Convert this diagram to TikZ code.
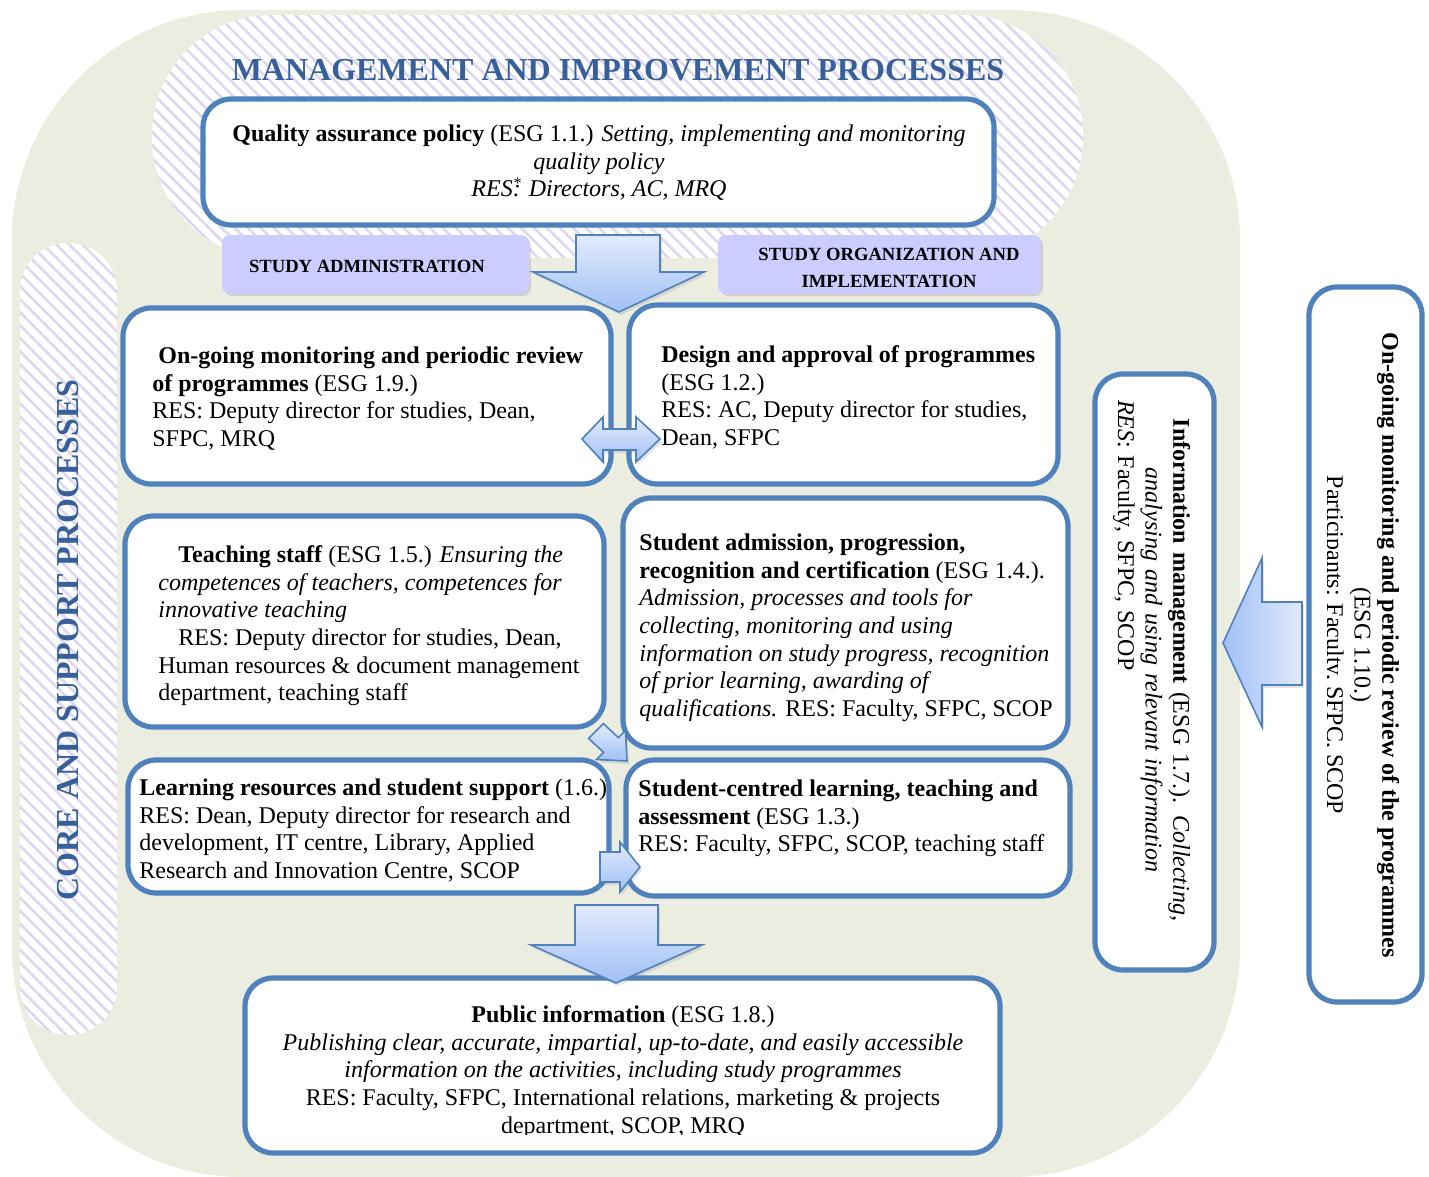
\documentclass[tikz,border=0pt]{standalone}
\usepackage{fontspec}
\setmainfont{Liberation Serif}
\usetikzlibrary{patterns.meta,shadows}
\definecolor{bgolive}{RGB}{235,237,224}
\definecolor{boxblue}{RGB}{79,129,189}
\definecolor{headblue}{RGB}{55,96,155}
\definecolor{hatch}{RGB}{221,216,240}
\definecolor{labelfill}{RGB}{204,204,255}
\definecolor{arrowtop}{RGB}{226,234,252}
\definecolor{arrowbot}{RGB}{160,192,245}
\begin{document}
\begin{tikzpicture}[x=0.5pt,y=-0.5pt,
  procbox/.style={draw=boxblue, line width=2.6pt, fill=white, rounded corners=14pt},
  labelbox/.style={fill=labelfill, rounded corners=4pt, drop shadow={opacity=0.25, shadow xshift=1pt, shadow yshift=-1pt}},
  hatched/.style={preaction={fill=white}, pattern={Lines[angle=-45,distance=4.6pt,line width=1.3pt]}, pattern color=hatch},
  blockarrow/.style={draw=boxblue, line width=0.8pt, top color=arrowtop, bottom color=arrowbot, drop shadow={opacity=0.2, shadow xshift=1pt, shadow yshift=-1.5pt}},
  bodytext/.style={font=\fontsize{12}{13.8}\selectfont, inner sep=0pt, align=left, anchor=north west},
  centertext/.style={font=\fontsize{12}{13.8}\selectfont, inner sep=0pt, align=center, anchor=north},
  labeltext/.style={font=\fontsize{9.3}{13.5}\selectfont\bfseries, inner sep=0pt, align=center},
  headtext/.style={font=\fontsize{16}{18}\selectfont\bfseries, text=headblue, inner sep=0pt}
]
% canvas
\path[fill=white] (0,0) rectangle (1429,1177);
\useasboundingbox (0,0) rectangle (1429,1177);
% outer background
\path[fill=bgolive, rounded corners=115pt] (12,10) rectangle (1240,1177);
% hatched areas
\path[hatched, rounded corners=60pt] (152,15) rectangle (1083,258);
\path[hatched, rounded corners=24pt] (20,243) rectangle (117,1035);
% headings
\node[headtext] (mgmt) at (618,70) {MANAGEMENT AND IMPROVEMENT PROCESSES};
\node[headtext, rotate=90] (core) at (68,640) {CORE AND SUPPORT PROCESSES};
% quality assurance policy
\path[procbox] (203,99) rectangle (994,225);
\node[centertext] (qa) at (599,122) {\strut\textbf{Quality assurance policy} (ESG 1.1.) \textit{Setting, implementing and monitoring}\\ \textit{quality policy}\\ \textit{RES\rlap{\textsuperscript{*}}: Directors, AC, MRQ}};
% labels
\path[labelbox] (222,235) rectangle (529,294);
\node[labeltext] (sa) at (367,266) {STUDY ADMINISTRATION};
\path[labelbox] (718,235) rectangle (1041,294);
\node[labeltext] (soi) at (889,268) {STUDY ORGANIZATION AND\\ IMPLEMENTATION};
% row 1
\path[procbox] (123,308) rectangle (611,484);
\node[bodytext] (b5) at (152,344) {\strut\hspace*{3pt}\textbf{On-going monitoring and periodic review}\\ \textbf{of programmes} (ESG 1.9.)\\ RES: Deputy director for studies, Dean,\\ SFPC, MRQ};
\path[procbox] (629,305) rectangle (1058,484);
\node[bodytext] (b6) at (661,343) {\strut\textbf{Design and approval of programmes}\\ (ESG 1.2.)\\ RES: AC, Deputy director for studies,\\ Dean, SFPC};
% row 2
\path[procbox] (125,516) rectangle (604,727);
\node[bodytext] (b8) at (158,543) {\strut\hspace*{10pt}\textbf{Teaching staff} (ESG 1.5.) \textit{Ensuring the}\\ \textit{competences of teachers, competences for}\\ \textit{innovative teaching}\\ \hspace*{10pt}RES: Deputy director for studies, Dean,\\ Human resources \& document management\\ department, teaching staff};
\path[procbox] (623,498) rectangle (1068,748);
\node[bodytext] (b9) at (639,531) {\strut\textbf{Student admission, progression,}\\ \textbf{recognition and certification} (ESG 1.4.).\\ \textit{Admission, processes and tools for}\\ \textit{collecting, monitoring and using}\\ \textit{information on study progress, recognition}\\ \textit{of prior learning, awarding of}\\ \textit{qualifications.} RES: Faculty, SFPC, SCOP};
% row 3
\path[procbox] (128,760) rectangle (609,893);
\node[bodytext] (b11) at (139,776) {\strut\textbf{Learning resources and student support} (1.6.)\\ RES: Dean, Deputy director for research and\\ development, IT centre, Library, Applied\\ Research and Innovation Centre, SCOP};
\path[procbox] (626,760) rectangle (1070,896);
\node[bodytext] (b12) at (638,777) {\strut\textbf{Student-centred learning, teaching and}\\ \textbf{assessment} (ESG 1.3.)\\ RES: Faculty, SFPC, SCOP, teaching staff};
% public information
\path[procbox] (245,978) rectangle (1000,1153);
\begin{scope}
\clip (245,978) rectangle (1000,1134);
\node[centertext] (pi) at (623,1003) {\strut\textbf{Public information} (ESG 1.8.)\\ \textit{Publishing clear, accurate, impartial, up-to-date, and easily accessible}\\ \textit{information on the activities, including study programmes}\\ RES: Faculty, SFPC, International relations, marketing \& projects\\ department, SCOP, MRQ};
\end{scope}
% right vertical boxes
\path[procbox] (1095,374) rectangle (1214,970);
\node[font=\fontsize{12}{13.8}\selectfont, inner sep=0pt, text width=270pt, align=center, anchor=north, rotate=-90] (im) at (1193,670) {\strut\textbf{Information management} (ESG 1.7.). \textit{Collecting,}\\ \textit{analysing and using relevant information}\\ \makebox[\linewidth][l]{\textit{RES}: Faculty, SFPC, SCOP}};
\path[procbox] (1309,287) rectangle (1422,1002);
\begin{scope}
\clip (1327,287) rectangle (1422,1002);
\node[centertext, rotate=-90] (om) at (1402,645) {\strut\textbf{On-going monitoring and periodic review of the programmes}\\ (ESG 1.10.)\\ Participants: Faculty, SFPC, SCOP};
\end{scope}
% block arrows
\path[blockarrow] (576,235) -- (660,235) -- (660,272) -- (704,272) -- (619,312) -- (533,272) -- (576,272) -- cycle;
\path[blockarrow] (582,439) -- (603,417) -- (603,429) -- (636,429) -- (636,417) -- (660,439) -- (636,462) -- (636,450) -- (603,450) -- (603,462) -- cycle;
\path[blockarrow] (603.4,723.6) -- (618.4,737.6) -- (625.5,730.5) -- (627,761) -- (596.5,759.5) -- (603.6,752.4) -- (588.6,738.4) -- cycle;
\path[blockarrow] (600,852) -- (620,852) -- (620,842) -- (640,867) -- (620,892) -- (620,882) -- (600,882) -- cycle;
\path[blockarrow] (575,905) -- (658,905) -- (658,945) -- (702,945) -- (616,983) -- (531,945) -- (575,945) -- cycle;
\path[blockarrow, left color=arrowbot, right color=arrowtop] (1223,643) -- (1262,558) -- (1262,602) -- (1302,602) -- (1302,685) -- (1262,685) -- (1262,727) -- cycle;
\end{tikzpicture}
\end{document}
